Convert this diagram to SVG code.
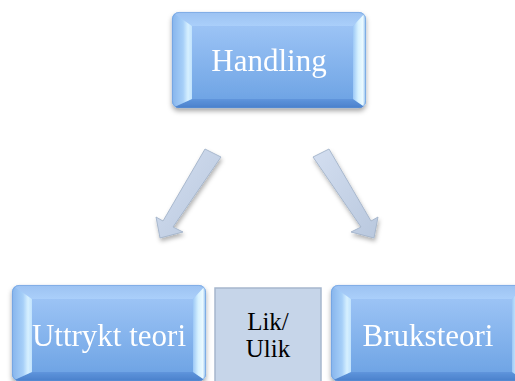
<svg xmlns="http://www.w3.org/2000/svg" xmlns:xlink="http://www.w3.org/1999/xlink" width="515" height="381" viewBox="0 0 515 381">
  <style>
    .lbl { font-family: "Liberation Serif", "Times New Roman", serif; font-size: 31px; fill: #ffffff; text-anchor: middle; }
    .mid { font-family: "Liberation Serif", "Times New Roman", serif; font-size: 25px; fill: #000000; text-anchor: middle; }
    .arrow { fill: url(#arrowFill); stroke: #a3b3ca; stroke-width: 0.9; stroke-linejoin: round; }
  </style>
  <defs>
    <filter id="shadow" x="-10%" y="-10%" width="120%" height="130%">
      <feDropShadow dx="0" dy="3" stdDeviation="2.5" flood-color="#000" flood-opacity="0.35"/>
    </filter>
    <filter id="arrowShadow" x="-20%" y="-20%" width="140%" height="140%">
      <feDropShadow dx="1" dy="3" stdDeviation="2" flood-color="#000" flood-opacity="0.3"/>
    </filter>
    <linearGradient id="face" x1="0" y1="0" x2="0" y2="1">
      <stop offset="0" stop-color="#a4c9f8"/>
      <stop offset="1" stop-color="#6aa1e3"/>
    </linearGradient>
    <linearGradient id="bevL" x1="0" y1="0" x2="1" y2="0">
      <stop offset="0" stop-color="#86b4ec"/>
      <stop offset="0.55" stop-color="#a6cff8"/>
      <stop offset="0.8" stop-color="#d6f0ff"/>
      <stop offset="1" stop-color="#c0e2fd"/>
    </linearGradient>
    <linearGradient id="bevR" x1="0" y1="0" x2="1" y2="0">
      <stop offset="0" stop-color="#9cc8f6"/>
      <stop offset="0.4" stop-color="#d6f1ff"/>
      <stop offset="0.75" stop-color="#ebfaff"/>
      <stop offset="1" stop-color="#86b7ec"/>
    </linearGradient>
    <linearGradient id="bevT" x1="0" y1="0" x2="0" y2="1">
      <stop offset="0" stop-color="#9cc2f2"/>
      <stop offset="1" stop-color="#aacffa"/>
    </linearGradient>
    <linearGradient id="bevB" x1="0" y1="0" x2="0" y2="1">
      <stop offset="0" stop-color="#5f95dc"/>
      <stop offset="1" stop-color="#4a80cb"/>
    </linearGradient>
    <linearGradient id="arrowFill" x1="0" y1="0" x2="1" y2="1">
      <stop offset="0" stop-color="#d3def0"/>
      <stop offset="1" stop-color="#b9c8de"/>
    </linearGradient>
    <clipPath id="boxClip">
      <rect x="0" y="0" width="194" height="96" rx="7"/>
    </clipPath>
    <!-- bevelled button, 194 x 96, drawn at the origin -->
    <g id="bevelBox">
      <g clip-path="url(#boxClip)">
        <rect x="0" y="0" width="194" height="96" fill="url(#face)"/>
        <polygon points="0,0 194,0 181,14 20,14" fill="url(#bevT)"/>
        <polygon points="0,96 20,87 181,87 194,96" fill="url(#bevB)"/>
        <polygon points="0,0 20,14 20,87 0,96" fill="url(#bevL)"/>
        <polygon points="194,0 181,14 181,87 194,96" fill="url(#bevR)"/>
      </g>
      <rect x="0.4" y="0.4" width="193.2" height="95.2" rx="7" fill="none" stroke="#5f93d6" stroke-width="0.8" stroke-opacity="0.6"/>
    </g>
  </defs>

  <rect width="515" height="381" fill="#ffffff"/>

  <!-- connectors -->
  <g id="connectors" filter="url(#arrowShadow)">
    <polygon class="arrow" points="205,149 221,157 173,227 183,232 160,238 156,217 163,221"/>
    <polygon class="arrow" points="329,149 313,157 361,227 351,232 374,238 378,217 371,221"/>
  </g>

  <g id="handling" filter="url(#shadow)">
    <use xlink:href="#bevelBox" x="172" y="12"/>
    <text class="lbl" x="269" y="71">Handling</text>
  </g>

  <g id="uttrykt-teori" filter="url(#shadow)">
    <use xlink:href="#bevelBox" x="12" y="285"/>
    <text class="lbl" x="109" y="346">Uttrykt teori</text>
  </g>

  <g id="lik-ulik">
    <rect x="215" y="288" width="106" height="100" fill="#c6d5e9" stroke="#a6b7cd" stroke-width="1.5"/>
    <text class="mid" x="268" y="330">Lik/</text>
    <text class="mid" x="268" y="357">Ulik</text>
  </g>

  <g id="bruksteori" filter="url(#shadow)">
    <use xlink:href="#bevelBox" x="331" y="285"/>
    <text class="lbl" x="428" y="346">Bruksteori</text>
  </g>
</svg>
